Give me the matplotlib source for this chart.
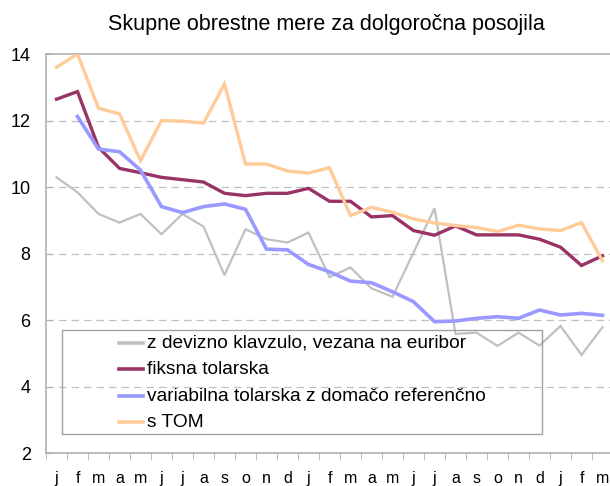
import matplotlib
matplotlib.use("Agg")
import matplotlib.pyplot as plt
from matplotlib.patches import Rectangle
from matplotlib.lines import Line2D
import numpy as np

plt.rcParams['font.family'] = ['Liberation Sans', 'DejaVu Sans']

months = ["j", "f", "m", "a", "m", "j", "j", "a", "s", "o", "n", "d",
          "j", "f", "m", "a", "m", "j", "j", "a", "s", "o", "n", "d",
          "j", "f", "m"]

euribor = [10.29, 9.84, 9.19, 8.93, 9.19, 8.58, 9.19, 8.81, 7.35, 8.73, 8.43, 8.33,
           8.63, 7.29, 7.58, 6.95, 6.70, 8.03, 9.36, 5.58, 5.62, 5.22, 5.62, 5.23,
           5.82, 4.95, 5.78]
fiksna = [12.64, 12.87, 11.19, 10.56, 10.43, 10.29, 10.22, 10.15, 9.81, 9.74, 9.81, 9.81,
          9.96, 9.57, 9.57, 9.10, 9.14, 8.69, 8.55, 8.83, 8.56, 8.56, 8.56, 8.43,
          8.19, 7.64, 7.93]
variabilna = [np.nan, 12.12, 11.14, 11.06, 10.51, 9.41, 9.23, 9.41, 9.49, 9.33, 8.13, 8.11,
              7.67, 7.45, 7.17, 7.12, 6.85, 6.55, 5.95, 5.97, 6.05, 6.10, 6.05, 6.30,
              6.15, 6.20, 6.14]
tom = [13.6, 14.0, 12.37, 12.2, 10.79, 12.0, 11.98, 11.92, 13.1, 10.69, 10.69, 10.48,
       10.42, 10.58, 9.14, 9.39, 9.24, 9.04, 8.92, 8.84, 8.78, 8.66, 8.85, 8.74,
       8.69, 8.93, 7.78]

labels = ["z devizno klavzulo, vezana na euribor", "fiksna tolarska",
          "variabilna tolarska z domačo referenčno", "s TOM"]
colors = ["#c0c0c0", "#993366", "#9999ff", "#ffcc99"]
widths = [1.6, 2.4, 2.6, 2.4]
series = [euribor, fiksna, variabilna, tom]

W, H = 610, 486
fig = plt.figure(figsize=(W / 100, H / 100), dpi=100)
ax = fig.add_axes([46 / W, (H - 453) / H, 567 / W, (453 - 54) / H])

x = np.arange(len(months))
for s, c, lw in zip(series, colors, widths):
    ax.plot(x, s, color=c, lw=lw, solid_joinstyle='miter', zorder=3)

ax.set_xlim(-0.5, len(months) - 0.5)
ax.set_ylim(2, 14)
ax.set_yticks([2, 4, 6, 8, 10, 12, 14])
for yv in [4, 6, 8, 10, 12]:
    ax.axhline(yv, color="#c0c0c0", lw=0.9, ls=(0, (6, 4)), zorder=1)

for sp in ["left", "bottom", "top"]:
    ax.spines[sp].set_color("#b0b0b0")
    ax.spines[sp].set_linewidth(1.2)
ax.spines["right"].set_visible(False)

ax.set_xticks(x)
ax.set_xticklabels(months, fontsize=11.5)
ax.set_xticks(np.arange(-0.5, len(months), 1), minor=True)
ax.tick_params(axis='x', which='major', length=0, pad=13)
ax.tick_params(axis='x', which='minor', length=5, color="#b0b0b0", direction='out')
ax.tick_params(axis='y', length=4, color="#b0b0b0", direction='in', labelsize=13, pad=11)

ax.set_title("Skupne obrestne mere za dolgoročna posojila", fontsize=15.5, pad=17,
             x=0.495)

# legend box (fixed-size, like the original; transparent)
rect = Rectangle((62 / W, (H - 434) / H), (542 - 62) / W, (434 - 330) / H,
                 transform=fig.transFigure, facecolor="none", edgecolor="#a0a0a0",
                 lw=1.0, zorder=4)
fig.add_artist(rect)
ys = [343, 369, 396, 422]
for lab, c, yy in zip(labels, colors, ys):
    fig.add_artist(Line2D([119 / W, 143 / W], [(H - yy) / H] * 2, color=c, lw=2.6,
                          transform=fig.transFigure, zorder=5))
    fig.text(147 / W, (H - yy) / H, lab, fontsize=13.8, va='center', ha='left', zorder=5)

fig.savefig("out.png", dpi=100)
